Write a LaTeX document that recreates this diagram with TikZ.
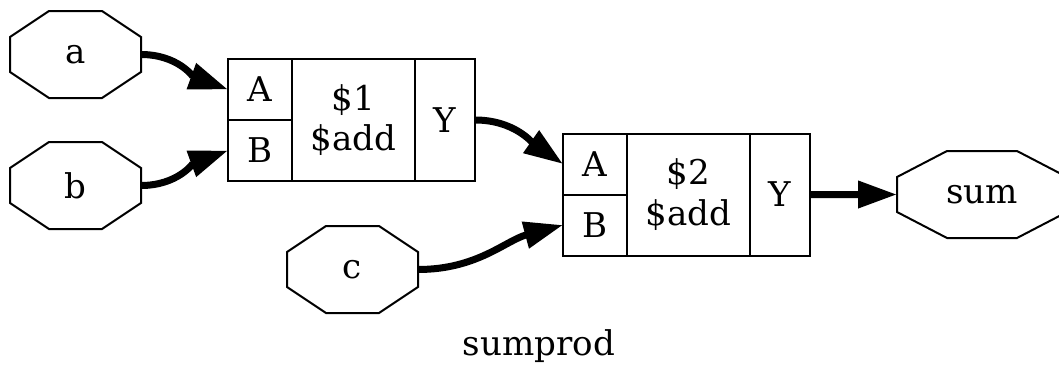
\documentclass[tikz,border=0pt]{standalone}
\usepackage{fontspec}
\setmainfont{DejaVu Serif}
\usetikzlibrary{arrows.meta,positioning}

\begin{document}
\begin{tikzpicture}[x=0.2mm,y=-0.2mm,
 wire/.style={line width=1.4mm,-{Triangle[length=7.8mm,width=5.2mm]}},
 cell/.style={draw,line width=0.4mm,inner sep=0pt,outer sep=0pt,align=center,font=\fontsize{19.4}{23}\selectfont},
 port/.style={inner sep=0pt,outer sep=0pt,minimum height=17.4mm,font=\fontsize{19.4}{23}\selectfont}]
\useasboundingbox (0,0) rectangle (1059,364);
\node[port,minimum width=26.2mm] (a) at (75.5,54.5) {a};
\node[port,minimum width=26.2mm] (b) at (75.5,185.5) {b};
\node[port,minimum width=26.2mm] (c) at (352.5,269.5) {c};
\node[port,minimum width=34mm] (sum) at (982,194.5) {sum};
\foreach \n/\w/\t in {a/65.5/26.5,b/65.5/26.5,c/65.5/26.5,sum/85/35}
  \draw[line width=0.4mm,shift={(\n.center)}] (-\w,-17.5) -- (-\t,-43.5) -- (\t,-43.5) -- (\w,-17.5) -- (\w,17.5) -- (\t,43.5) -- (-\t,43.5) -- (-\w,17.5) -- cycle;
\foreach \k/\x/\y in {1/260/89.5,2/595/164}{
 \node[cell,minimum width=12.8mm,minimum height=12.2mm] (add\k-A) at (\x,\y) {A};
 \node[cell,minimum width=12.8mm,minimum height=12.2mm,below=0pt of add\k-A] (add\k-B) {B};
 \node[cell,minimum width=24.6mm,minimum height=24.4mm,anchor=north west] (add\k-m) at (add\k-A.north east) {\$\k\\\$add};
 \node[cell,minimum width=12mm,minimum height=24.4mm,anchor=north west] (add\k-Y) at (add\k-m.north east) {Y};
}
\draw[wire] (a.east) to[out=0,in=160] (add1-A.west);
\draw[wire] (b.east) to[out=0,in=200] (add1-B.west);
\draw[wire] (add1-Y.east) to[out=0,in=145] (add2-A.west);
\draw[wire] (c.east) to[out=0,in=195] (add2-B.west);
\draw[wire] (add2-Y.east) -- (sum.west);
\node[font=\fontsize{19.4}{23}\selectfont] (title) at (539,346) {sumprod};
\end{tikzpicture}
\end{document}
